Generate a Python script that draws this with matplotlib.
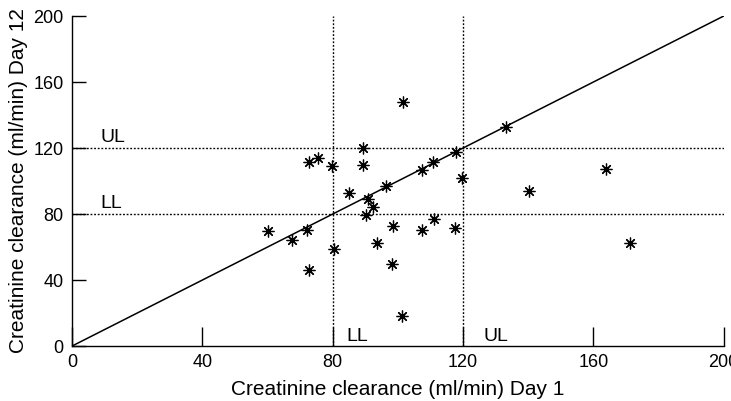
import matplotlib
matplotlib.use("Agg")
import matplotlib.pyplot as plt

day1 = [101.6, 89.4, 72.7, 75.6, 79.9, 89.4, 119.7, 118.0, 110.8, 107.4, 96.5, 85.0,
        90.7, 92.4, 90.2, 60.2, 67.5, 72.2, 72.7, 80.4, 98.6, 93.5, 98.3, 101.2,
        107.4, 111.1, 117.6, 133.3, 163.8, 140.3, 171.2]
day12 = [148.0, 119.8, 111.7, 113.7, 109.0, 110.0, 102.0, 117.8, 111.7, 106.7, 97.0, 93.0,
         88.9, 84.4, 79.4, 69.7, 64.0, 70.3, 46.0, 58.6, 72.7, 62.2, 49.5, 18.2,
         70.3, 76.8, 71.5, 133.0, 107.3, 94.1, 62.6]
ticks = [0, 40, 80, 120, 160, 200]
LL, UL = 80, 120

plt.rcParams['font.family'] = ['Liberation Sans', 'DejaVu Sans']
fig = plt.figure(figsize=(7.31, 4.01), dpi=100)
ax = fig.add_axes([0.0985, 0.137, 0.8915, 0.823])

ax.plot([0, 200], [0, 200], color='black', lw=1.1)
for v in (LL, UL):
    ax.axhline(v, color='black', lw=1, ls=(0, (1.3, 1.3)))
    ax.axvline(v, color='black', lw=1, ls=(0, (1.3, 1.3)))

ax.plot(day1, day12, ls='none', marker=(8, 2, 0), ms=8.5, mew=0.9, color='black')
ax.plot(day1, day12, ls='none', marker='o', ms=2.5, color='black')

ax.text(8.6, 123.5, 'UL', fontsize=14, ha='left', va='baseline')
ax.text(8.6, 83.5, 'LL', fontsize=14, ha='left', va='baseline')
ax.text(84.3, 3, 'LL', fontsize=14, ha='left', va='baseline')
ax.text(126.2, 3, 'UL', fontsize=14, ha='left', va='baseline')

ax.set_xlim(0, 200)
ax.set_ylim(0, 200)
ax.set_xticks(ticks)
ax.set_yticks(ticks)
ax.tick_params(direction='in', width=1, labelsize=13, pad=6)
ax.tick_params(axis='x', length=14)
ax.tick_params(axis='y', length=10)
for s in ('top', 'right'):
    ax.spines[s].set_visible(False)
for s in ('left', 'bottom'):
    ax.spines[s].set_linewidth(1)
ax.set_xlabel('Creatinine clearance (ml/min) Day 1', fontsize=15, labelpad=6)
ax.set_ylabel('Creatinine clearance (ml/min) Day 12', fontsize=15, labelpad=4)
fig.savefig('out.png', dpi=100)
